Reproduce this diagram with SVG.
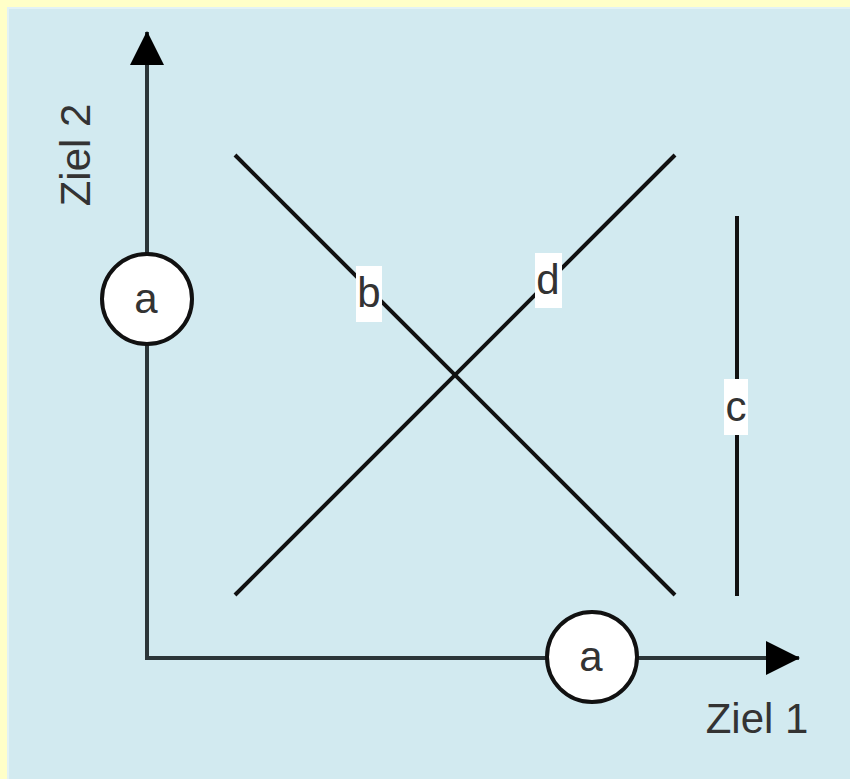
<svg xmlns="http://www.w3.org/2000/svg" width="850" height="779" viewBox="0 0 850 779">
<style>
.ln{stroke:#111;stroke-width:4;fill:none}
.ax{stroke:#2b3538;stroke-width:4;fill:none}
.t{font-family:"Liberation Sans",Arial,sans-serif;font-size:42px;fill:#333;text-anchor:middle}
.lbl{fill:#fff}
.node circle{fill:#fff;stroke:#111;stroke-width:4}
</style>
<defs>
<marker id="ah" markerWidth="34" markerHeight="34" viewBox="0 0 34 34" refX="33" refY="17" orient="auto" markerUnits="userSpaceOnUse">
<path d="M0,0 L34,17 L0,34 Z" fill="#000"/>
</marker>
</defs>
<rect x="0" y="0" width="850" height="779" fill="#ffffc8"/>
<rect x="7" y="7" width="843" height="772" fill="#e2f2f5"/>
<rect x="9" y="9" width="841" height="770" fill="#d2eaf0"/>
<g id="connectors">
<line class="ax" x1="147" y1="658" x2="147" y2="32" marker-end="url(#ah)"/>
<line class="ax" x1="145" y1="658" x2="799" y2="658" marker-end="url(#ah)"/>
<line class="ln" x1="235" y1="155" x2="675" y2="595"/>
<line class="ln" x1="235" y1="595" x2="675" y2="155"/>
<line class="ln" x1="737" y1="216" x2="737" y2="596"/>
<rect class="lbl" x="356" y="266" width="26" height="56"/>
<text class="t" x="369" y="307">b</text>
<rect class="lbl" x="535" y="253" width="27" height="55"/>
<text class="t" x="548" y="294">d</text>
<rect class="lbl" x="724" y="379" width="24" height="56"/>
<text class="t" x="736" y="421">c</text>
</g>
<g id="node-a-y" class="node">
<circle cx="147" cy="299" r="45"/>
<text class="t" x="146" y="313">a</text>
</g>
<g id="node-a-x" class="node">
<circle cx="592" cy="657" r="45"/>
<text class="t" x="591" y="671">a</text>
</g>
<g id="axis-labels">
<text class="t" transform="translate(90,155) rotate(-90)">Ziel 2</text>
<text class="t" x="757" y="733">Ziel 1</text>
</g>
</svg>
